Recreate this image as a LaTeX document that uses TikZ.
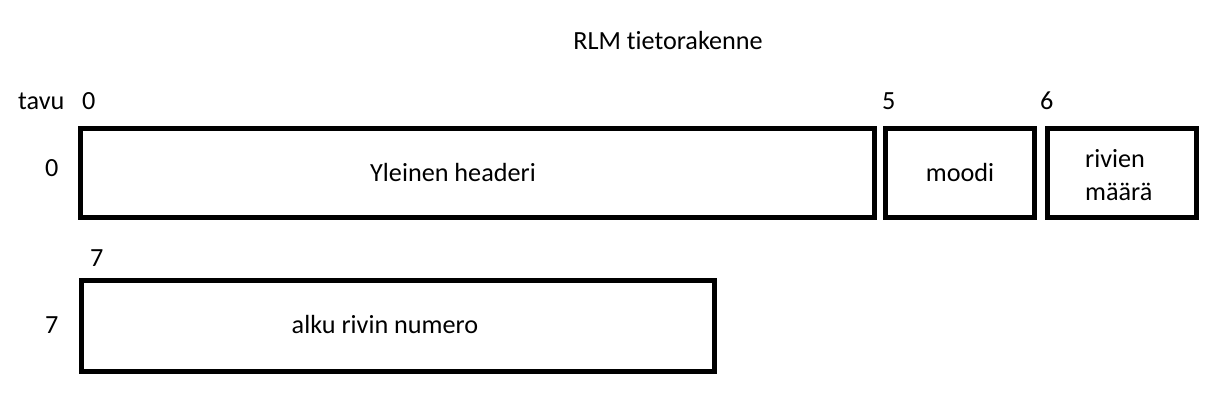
\documentclass[tikz,border=0pt]{standalone}
\usepackage{fontspec}
\setmainfont[Ligatures={NoCommon,NoContextual}]{Carlito}
\usetikzlibrary{calc}

\begin{document}
\begin{tikzpicture} [x=1pt, y=-1pt, font=\fontsize{26.2}{32.7}\selectfont]
\useasboundingbox (0,0) rectangle (1224,406);

\node[anchor=base] (otsikko) at (668,50) {RLM tietorakenne};
\node[anchor=base west, inner sep=0pt] (tavu) at (18,110) {tavu};

% kentat
\draw[line width=5pt] (80.5,129) rectangle (874,217.5);
\draw[line width=5pt] (885.5,129) rectangle (1034.7,217.5);
\draw[line width=5pt] (1047,129) rectangle (1196,217.5);
\draw[line width=5pt] (81.5,280.5) rectangle (714,371);

\foreach \n/\x [count=\i] in {0/82, 5/882, 6/1040}
\node[anchor=base west, inner sep=0pt] (tavu\i) at (\x,110) {\n};
\node[anchor=base west, inner sep=0pt] (tavu7) at (90,266) {7};

\node[anchor=base west, inner sep=0pt] (rivi0) at (45,177) {0};
\node[anchor=base west, inner sep=0pt] (rivi7) at (45,333) {7};

\node[anchor=base] (header) at (453,181.7) {Yleinen headeri};
\node[anchor=base] (moodi) at (960,181.7) {moodi};
\node[anchor=base west, inner sep=0pt] (rivit) at (1085,168) {rivien};
\node[anchor=base west, inner sep=0pt] (maara) at (1085,200.7) {määrä};
\node[anchor=base] (alku) at (385,333) {alku rivin numero};

\end{tikzpicture}
\end{document}
